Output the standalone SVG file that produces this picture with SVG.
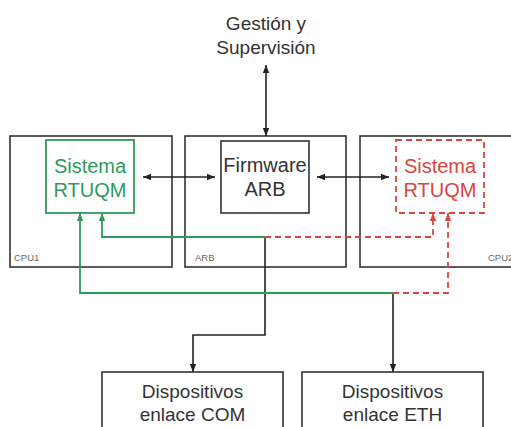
<svg xmlns="http://www.w3.org/2000/svg" width="511" height="427" viewBox="0 0 511 427">
<style>
.box{fill:none;stroke:#333;stroke-width:1.6}
.txt{font-family:"Liberation Sans",Arial,sans-serif;font-size:19px;fill:#333;text-anchor:middle}
.big{font-size:20px}
.lbl{font-family:"Liberation Sans",Arial,sans-serif;font-size:9.5px;fill:#666}
.blk{fill:none;stroke:#222;stroke-width:1.6}
.grn{fill:none;stroke:#2f9a5b;stroke-width:1.8}
.red{fill:none;stroke:#d9463e;stroke-width:1.8;stroke-dasharray:6,4}
</style>
<defs>
<marker id="ab" viewBox="0 0 10 10" refX="10" refY="5" markerWidth="8" markerHeight="8" markerUnits="userSpaceOnUse" orient="auto-start-reverse"><path d="M0,1 L10,5 L0,9 Z" fill="#222"/></marker>
<marker id="ag" viewBox="0 0 10 10" refX="10" refY="5" markerWidth="8" markerHeight="8" markerUnits="userSpaceOnUse" orient="auto"><path d="M0,1 L10,5 L0,9 Z" fill="#2f9a5b"/></marker>
<marker id="ar" viewBox="0 0 10 10" refX="10" refY="5" markerWidth="8" markerHeight="8" markerUnits="userSpaceOnUse" orient="auto"><path d="M0,1 L10,5 L0,9 Z" fill="#d9463e"/></marker>
</defs>
<rect width="511" height="427" fill="#fff"/>
<g id="gestion">
<text class="txt" x="266" y="30">Gestión y</text>
<text class="txt" x="266" y="54">Supervisión</text>
</g>
<g id="cpu1">
<rect class="box" x="10" y="136" width="162" height="131"/>
<text class="lbl" x="14" y="261">CPU1</text>
</g>
<g id="arb">
<rect class="box" x="185" y="136" width="161" height="131"/>
<text class="lbl" x="195" y="261">ARB</text>
</g>
<g id="cpu2">
<rect class="box" x="360" y="136" width="160" height="131"/>
<text class="lbl" x="488" y="261">CPU2</text>
</g>
<g id="sistema1">
<rect x="46" y="140" width="88" height="73" fill="none" stroke="#2f9a5b" stroke-width="1.8"/>
<text class="txt big" x="90" y="173" style="fill:#2f9a5b">Sistema</text>
<text class="txt big" x="90" y="197" style="fill:#2f9a5b">RTUQM</text>
</g>
<g id="firmware">
<rect class="box" x="221" y="141" width="88" height="72"/>
<text class="txt big" x="265" y="172">Firmware</text>
<text class="txt big" x="265" y="196">ARB</text>
</g>
<g id="sistema2">
<rect x="396" y="140" width="88" height="73" fill="none" stroke="#d9463e" stroke-width="1.8" stroke-dasharray="6,4"/>
<text class="txt big" x="440" y="173" style="fill:#d9463e">Sistema</text>
<text class="txt big" x="440" y="197" style="fill:#d9463e">RTUQM</text>
</g>
<g id="com">
<rect class="box" x="102" y="372" width="181" height="60"/>
<text class="txt" x="192.5" y="398">Dispositivos</text>
<text class="txt" x="192.5" y="421">enlace COM</text>
</g>
<g id="eth">
<rect class="box" x="302" y="372" width="181" height="60"/>
<text class="txt" x="392.5" y="398">Dispositivos</text>
<text class="txt" x="392.5" y="421">enlace ETH</text>
</g>
<g id="connectors">
<line class="blk" x1="266" y1="65" x2="266" y2="136" marker-start="url(#ab)" marker-end="url(#ab)"/>
<line class="blk" x1="143" y1="177" x2="215" y2="177" marker-start="url(#ab)" marker-end="url(#ab)"/>
<line class="blk" x1="317" y1="177" x2="389" y2="177" marker-start="url(#ab)" marker-end="url(#ab)"/>
<polyline class="blk" points="265,237 265,335 193,335 193,372" marker-end="url(#ab)"/>
<line class="blk" x1="393" y1="293" x2="393" y2="372" marker-end="url(#ab)"/>
<polyline class="grn" points="265,237 102,237 102,213" marker-end="url(#ag)"/>
<polyline class="grn" points="393,293 80,293 80,213" marker-end="url(#ag)"/>
<polyline class="red" points="265,237 433,237 433,213" marker-end="url(#ar)"/>
<polyline class="red" points="393,293 448,293 448,213" marker-end="url(#ar)"/>
</g>
</svg>
